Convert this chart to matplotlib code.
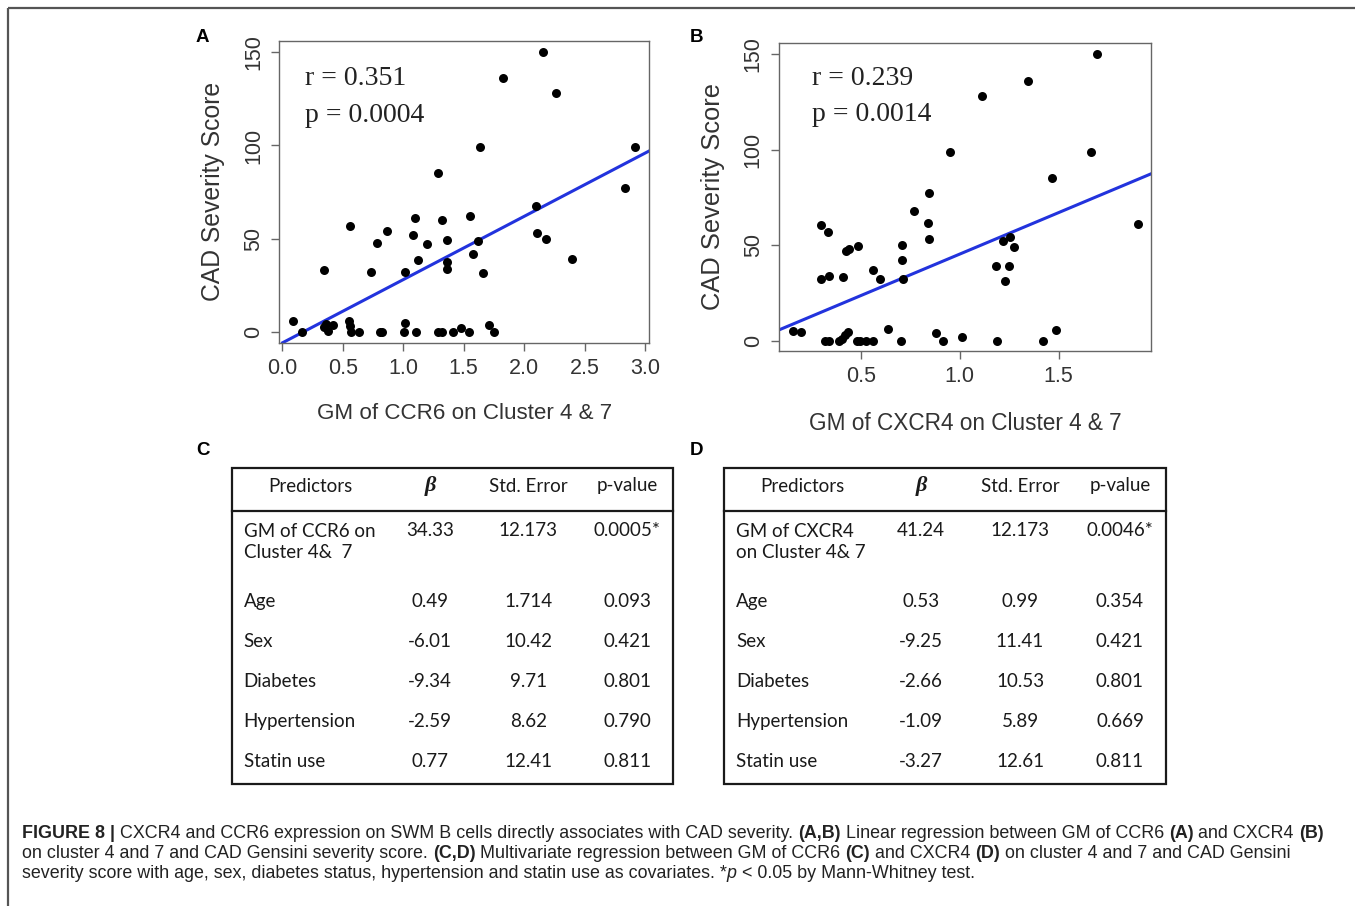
import matplotlib.pyplot as plt
from matplotlib.patches import Rectangle

# panel A: GM of CCR6 vs CAD severity
ccr6_x = [0.086, 0.160, 0.345, 0.345, 0.36, 0.38, 0.42, 0.56, 0.555, 0.56, 0.565, 0.635,
          0.734, 0.786, 0.81, 0.825, 0.869, 1.005, 1.012, 1.015, 1.081, 1.10, 1.106, 1.125,
          1.194, 1.29, 1.29, 1.32, 1.318, 1.36, 1.36, 1.36, 1.41, 1.476, 1.54, 1.553, 1.577,
          1.616, 1.635, 1.66, 1.713, 1.751, 1.823, 2.098, 2.104, 2.154, 2.178, 2.264, 2.394,
          2.832, 2.915]
ccr6_y = [6, 0, 33, 2.5, 4.5, 0.5, 4, 57, 6, 3.5, 0, 0,
          32, 48, 0, 0, 54, 0, 5, 32, 52, 61, 0, 38.5,
          47, 85, 0, 0, 60, 49.5, 37.5, 34, 0, 2.3, 0, 62, 42,
          49, 99, 31.5, 4, 0, 136, 67.7, 53, 150, 50, 128, 39,
          77, 99]
ccr6_fit = (-5.8, 33.9)  # intercept, slope

# panel B: GM of CXCR4 vs CAD severity
cxcr4_x = [0.156, 0.197, 0.298, 0.298, 0.321, 0.34, 0.335, 0.338, 0.389, 0.405, 0.422, 0.437,
           0.412, 0.426, 0.44, 0.48, 0.496, 0.527, 0.564, 0.487, 0.56, 0.597, 0.64, 0.703,
           0.707, 0.707, 0.715, 0.771, 0.838, 0.847, 0.845, 0.879, 0.916, 0.953, 1.012, 1.113,
           1.185, 1.187, 1.22, 1.229, 1.247, 1.254, 1.274, 1.343, 1.419, 1.465, 1.487, 1.661,
           1.692, 1.899]
cxcr4_y = [5.2, 4.4, 60.4, 32.1, 0, 0, 57.1, 34, 0, 0.7, 3, 4.6,
           33.2, 47.1, 48.2, 0, 0, 0, 0, 49.4, 37, 32.1, 6.1, 0,
           50, 42, 32.1, 67.6, 61.8, 77.2, 53.1, 3.9, 0, 99, 2.1, 128,
           38.8, 0, 52, 31.4, 39.1, 54.1, 49, 136, 0, 85, 5.6, 99,
           150, 61.1]
cxcr4_fit = (1.8, 43.5)

# panels C and D: multivariate regression tables
header = ['Predictors', 'β', 'Std. Error', 'p-value']
predictors_c = ['GM of CCR6 on\nCluster 4&  7', 'Age', 'Sex', 'Diabetes', 'Hypertension', 'Statin use']
beta_c = ['34.33', '0.49', '-6.01', '-9.34', '-2.59', '0.77']
se_c = ['12.173', '1.714', '10.42', '9.71', '8.62', '12.41']
p_c = ['0.0005*', '0.093', '0.421', '0.801', '0.790', '0.811']
predictors_d = ['GM of CXCR4\non Cluster 4& 7', 'Age', 'Sex', 'Diabetes', 'Hypertension', 'Statin use']
beta_d = ['41.24', '0.53', '-9.25', '-2.66', '-1.09', '-3.27']
se_d = ['12.173', '0.99', '11.41', '10.53', '5.89', '12.61']
p_d = ['0.0046*', '0.354', '0.421', '0.801', '0.669', '0.811']

caption = [
    [('FIGURE 8 |', 'bold', 'normal'),
     (' CXCR4 and CCR6 expression on SWM B cells directly associates with CAD severity.', 'normal', 'normal'),
     (' (A,B)', 'bold', 'normal'), (' Linear regression between GM of CCR6', 'normal', 'normal'),
     (' (A)', 'bold', 'normal'), (' and CXCR4', 'normal', 'normal'), (' (B)', 'bold', 'normal')],
    [('on cluster 4 and 7 and CAD Gensini severity score.', 'normal', 'normal'),
     (' (C,D)', 'bold', 'normal'), (' Multivariate regression between GM of CCR6', 'normal', 'normal'),
     (' (C)', 'bold', 'normal'), (' and CXCR4', 'normal', 'normal'), (' (D)', 'bold', 'normal'),
     (' on cluster 4 and 7 and CAD Gensini', 'normal', 'normal')],
    [('severity score with age, sex, diabetes status, hypertension and statin use as covariates. *', 'normal', 'normal'),
     ('p', 'normal', 'italic'), (' < 0.05 by Mann-Whitney test.', 'normal', 'normal')],
]

W, H = 1355, 906
fig = plt.figure(figsize=(W / 100, H / 100), dpi=100)
fig.patch.set_facecolor('white')

# overlay in pixel coordinates for frame, labels, tables, caption
ov = fig.add_axes([0, 0, 1, 1])
ov.set_xlim(0, W)
ov.set_ylim(H, 0)
ov.set_axis_off()
ov.plot([8, W], [8, 8], color='#555555', lw=1.6, solid_capstyle='butt')
ov.plot([8, 8], [8, H], color='#555555', lw=1.6, solid_capstyle='butt')

for lab, x, y in [('A', 196, 42), ('B', 690, 42), ('C', 196, 455), ('D', 690, 455)]:
    ov.text(x, y, lab, fontsize=13.5, fontweight='bold', family='Liberation Sans', va='baseline')


def scatter_panel(rect, x, y, fit, xlim, ylim, xticks, xlabel, rtxt, ptxt, txy, lab_pos, lab_size):
    ax = fig.add_axes(rect)
    ax.scatter(x, y, s=42, color='black', zorder=3, linewidths=0)
    b0, b1 = fit
    ax.axline((0, b0), slope=b1, color='#2233dd', lw=2.2, zorder=2)
    ax.set_xlim(*xlim)
    ax.set_ylim(*ylim)
    ax.set_xticks(xticks)
    ax.set_xticklabels(['%.1f' % v for v in xticks])
    ax.set_yticks([0, 50, 100, 150])
    for s in ax.spines.values():
        s.set_color('#666666')
        s.set_linewidth(1.0)
    ax.tick_params(length=6, width=1.0, color='#666666', labelsize=15.5, labelcolor='#333333', pad=5)
    ax.tick_params(axis='y', labelrotation=90)
    for t in ax.get_yticklabels():
        t.set_va('center')
        t.set_family('Liberation Sans')
    for t in ax.get_xticklabels():
        t.set_family('Liberation Sans')
    ax.set_xlabel(xlabel, fontsize=lab_size[0], family='Liberation Sans', color='#333333')
    ax.set_ylabel('CAD Severity Score', fontsize=lab_size[1], family='Liberation Sans', color='#333333')
    ax.xaxis.set_label_coords(0.5, lab_pos[0])
    ax.yaxis.set_label_coords(lab_pos[1], 0.5)
    ax.xaxis.label.set_va('center')
    ax.yaxis.label.set_va('center')
    ax.text(txy[0], txy[1], rtxt, transform=ax.transAxes, fontsize=20, family='Liberation Serif',
            va='baseline', color='#222222')
    ax.text(txy[0], txy[2], ptxt, transform=ax.transAxes, fontsize=20, family='Liberation Serif',
            va='baseline', color='#222222')
    return ax


scatter_panel([279.3 / W, 1 - 342.7 / H, 369.7 / W, 301.7 / H], ccr6_x, ccr6_y, ccr6_fit,
              (-0.025, 3.033), (-5.7, 156), [0.0, 0.5, 1.0, 1.5, 2.0, 2.5, 3.0],
              'GM of CCR6 on Cluster 4 & 7', 'r = 0.351', 'p = 0.0004',
              (0.0695, 0.854, 0.7325), (-0.234, -0.1785), (16.1, 17.8))
scatter_panel([779 / W, 1 - 350.7 / H, 372 / W, 308 / H], cxcr4_x, cxcr4_y, cxcr4_fit,
              (0.087, 1.966), (-5.3, 156), [0.5, 1.0, 1.5],
              'GM of CXCR4 on Cluster 4 & 7', 'r = 0.239', 'p = 0.0014',
              (0.088, 0.8627, 0.7468), (-0.236, -0.1766), (16.3, 18.4))


def draw_table(left, right, cols, preds, beta, se, pv):
    top, bottom, sep = 467.7, 784, 510.7
    ov.add_patch(Rectangle((left, top), right - left, bottom - top, fill=False,
                           edgecolor='#1a1a1a', lw=1.6))
    ov.plot([left, right], [sep, sep], color='#1a1a1a', lw=1.6)
    tf = dict(family='Lato', fontsize=13.5, color='#1a1a1a')
    for i, h in enumerate(header):
        if h == 'β':
            ov.text(cols[i], 486, h, ha='center', va='center', family='Liberation Serif',
                    fontsize=16, fontweight='bold', fontstyle='italic', color='#1a1a1a')
        else:
            ov.text(cols[i], 486, h, ha='center', va='center', **tf)
    rows_y = [530, 601.7, 641.7, 681.7, 721.7, 761.7]
    for j, yy in enumerate(rows_y):
        if j == 0:
            ov.text(left + 12, yy + 12, preds[j], ha='left', va='center', linespacing=1.3, **tf)
        else:
            ov.text(left + 12, yy, preds[j], ha='left', va='center', **tf)
        ov.text(cols[1], yy, beta[j], ha='center', va='center', **tf)
        ov.text(cols[2], yy, se[j], ha='center', va='center', **tf)
        ov.text(cols[3], yy, pv[j], ha='center', va='center', **tf)


draw_table(231.7, 673.3, [310, 430, 528.3, 627.3], predictors_c, beta_c, se_c, p_c)
draw_table(724.3, 1165.7, [802.3, 921, 1020, 1120], predictors_d, beta_d, se_d, p_d)

# caption, drawn piece by piece so bold parts sit inline
renderer = fig.canvas.get_renderer()


def text_w(s, **kw):
    t = ov.text(0, 0, s, **kw)
    w = t.get_window_extent(renderer=renderer).width
    t.remove()
    return w


cap_kw = dict(family='Liberation Sans', fontsize=12.9)
space_w = text_w('x x', **cap_kw) - text_w('xx', **cap_kw)
for line, base in zip(caption, [838.3, 858, 877.5]):
    x = 22
    for txt, wt, st in line:
        if txt.startswith(' '):
            x += space_w
            txt = txt[1:]
        t = ov.text(x, base, txt, fontweight=wt, fontstyle=st, va='baseline',
                    color='#222222', **cap_kw)
        x += t.get_window_extent(renderer=renderer).width

fig.savefig('out.png', dpi=100, facecolor='white')
